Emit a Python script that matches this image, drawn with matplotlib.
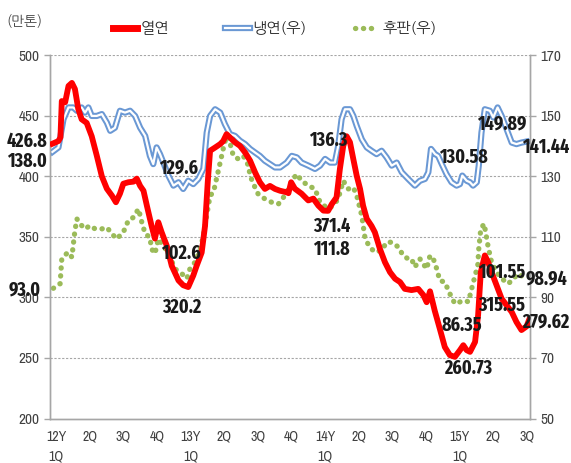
import matplotlib
matplotlib.use("Agg")
import matplotlib.pyplot as plt
from matplotlib.lines import Line2D

plt.rcParams['font.family'] = ['Archivo Narrow', 'NanumGothic', 'DejaVu Sans']
kr = ['NanumGothic', 'Noto Sans CJK KR', 'DejaVu Sans']
bold_narrow = ['Fira Sans Extra Condensed', 'Fira Sans Condensed', 'DejaVu Sans']

# x positions are in quarters from 12Y 1Q (0) to 15Y 3Q (14)
hot_x = [-0.11, 0.07, 0.13, 0.17, 0.27, 0.37, 0.47, 0.56, 0.66, 0.76, 0.91, 1.06, 1.21, 1.36, 1.51,
         1.66, 1.78, 1.90, 2.00, 2.15, 2.30, 2.40, 2.50, 2.60, 2.70, 2.84, 2.94, 3.04, 3.14, 3.29,
         3.44, 3.64, 3.78, 3.93, 4.08, 4.18, 4.33, 4.43, 4.51, 4.58, 4.73, 4.88, 4.97, 5.07, 5.17,
         5.32, 5.47, 5.62, 5.77, 5.92, 6.06, 6.21, 6.36, 6.51, 6.66, 6.86, 6.91, 6.99, 7.10, 7.30,
         7.50, 7.65, 7.80, 7.95, 8.09, 8.20, 8.34, 8.44, 8.54, 8.64, 8.74, 8.84, 8.94, 9.04, 9.13,
         9.24, 9.38, 9.48, 9.63, 9.78, 9.93, 10.08, 10.23, 10.37, 10.57, 10.77, 10.92, 11.02, 11.12,
         11.26, 11.41, 11.56, 11.71, 11.86, 12.01, 12.11, 12.21, 12.31, 12.46, 12.55, 12.63, 12.75,
         12.85, 12.95, 13.10, 13.25, 13.40, 13.55, 13.69, 13.84, 13.99, 14.06]
hot = [426.8, 429, 432, 462, 461, 474.5, 477, 472, 455.5, 447, 444, 433, 417, 400, 389.7,
       384, 378.5, 385.6, 393.8, 395, 395.5, 398, 392, 388, 375.7, 359, 348.5, 362, 353.7, 342.8,
       326, 314, 310, 308.5, 318, 326, 337, 359, 395, 421, 423.7, 426.5, 429, 434.7, 432,
       428, 425, 419.6, 412.8, 403, 395, 389.5, 392, 389.5, 388, 386.7, 386, 395, 389.7, 385.6,
       380, 381.5, 375.7, 371.6, 371.4, 377, 382.5, 406, 425, 433, 428, 414, 400.4, 389.5, 375.7,
       364.8, 359, 353.7, 340, 329, 320.8, 315.4, 312.6, 307, 306, 307, 302, 296, 305,
       289, 274.2, 259, 252.3, 250.9, 256.4, 260.5, 256.4, 255, 263.2, 285.2, 320.8, 334.6,
       329, 320.8, 309.9, 298.9, 293.4, 287.9, 279.7, 273, 276, 281]

cold_x = [-0.11, 0.07, 0.22, 0.37, 0.51, 0.62, 0.76, 0.86, 0.96, 1.06, 1.21, 1.36, 1.51, 1.61, 1.75,
          1.90, 2.05, 2.20, 2.35, 2.50, 2.65, 2.79, 2.89, 2.99, 3.09, 3.19, 3.34, 3.49, 3.64, 3.78,
          3.93, 4.08, 4.23, 4.38, 4.48, 4.58, 4.73, 4.88, 5.02, 5.17, 5.32, 5.47, 5.62, 5.77, 5.92,
          6.06, 6.21, 6.36, 6.51, 6.66, 6.86, 7.01, 7.16, 7.30, 7.50, 7.70, 7.85, 8.00, 8.15, 8.29,
          8.39, 8.49, 8.59, 8.74, 8.84, 8.94, 9.09, 9.24, 9.38, 9.53, 9.68, 9.83, 9.98, 10.13, 10.28,
          10.47, 10.67, 10.82, 10.97, 11.07, 11.15, 11.27, 11.36, 11.47, 11.61, 11.76, 11.91, 12.01,
          12.08, 12.21, 12.31, 12.40, 12.51, 12.57, 12.65, 12.75, 12.90, 13.00, 13.13, 13.25, 13.40,
          13.55, 13.69, 13.84, 13.99]
cold = [138.0, 139.5, 148.8, 152.7, 152.7, 151.6, 152.7, 151, 152.7, 149.9, 149.9, 150.5, 147.7, 145, 146,
        151.6, 151, 151.6, 149.9, 146, 143.3, 136.7, 134, 139.5, 137.3, 134.5, 130.2, 126.9, 128, 125.8,
        128.5, 127.4, 129.1, 132.4, 144.4, 149.9, 152.1, 151, 147.2, 143.9, 143.3, 141.7, 140.6, 139, 137.8,
        136.7, 135.1, 134, 132.9, 132.9, 134.5, 136.7, 136.2, 134.5, 133.5, 132.4, 133.5, 135.7, 134.5, 134.5,
        140, 148.8, 152.1, 152.1, 149.9, 146.6, 142.2, 139.5, 138.4, 137.3, 138.4, 136.2, 133.5, 134.5, 131.3,
        129.1, 126.9, 128.5, 129.1, 131.3, 139, 137.3, 136.7, 134, 130.7, 128, 126.9, 127.4,
        130.2, 128.5, 128, 126.9, 128, 133.5, 144.4, 152.1, 151.6, 149.4, 152.7, 149.9, 145.5,
        141.1, 140.6, 141.1, 141.44]

plate_x = [-0.08, 0.12, 0.17, 0.35, 0.47, 0.56, 0.62, 0.71, 0.86, 1.01, 1.16, 1.36, 1.51, 1.66, 1.80,
           2.00, 2.15, 2.30, 2.45, 2.55, 2.65, 2.79, 2.84, 2.94, 3.04, 3.19, 3.34, 3.54, 3.74, 3.89,
           3.98, 4.13, 4.28, 4.38, 4.48, 4.58, 4.68, 4.78, 4.88, 4.97, 5.07, 5.17, 5.27, 5.42, 5.57,
           5.72, 5.77, 5.87, 6.01, 6.21, 6.41, 6.61, 6.76, 6.91, 7.01, 7.16, 7.30, 7.50, 7.70, 7.85,
           8.09, 8.24, 8.39, 8.54, 8.69, 8.84, 8.94, 9.09, 9.19, 9.33, 9.48, 9.68, 9.83, 9.98, 10.18,
           10.32, 10.47, 10.57, 10.67, 10.82, 11.02, 11.12, 11.22, 11.32, 11.41, 11.56, 11.71, 11.86,
           12.01, 12.16, 12.26, 12.36, 12.46, 12.54, 12.57, 12.63, 12.73, 12.85, 12.95, 13.10, 13.25,
           13.45, 13.60, 13.75, 13.89]
plate = [93.0, 94.5, 102.7, 104.9, 103.3, 112, 115.9, 114.3, 112.6, 113.7, 112.6, 112.6, 113.1, 111, 109.3,
         111.5, 115.4, 116.4, 119.2, 114.8, 111, 109.8, 106, 104.4, 109.3, 107.1, 104.5, 99.4, 97.8, 96.2,
         99.4, 101.6, 105.5, 110.4, 117, 123.6, 124.7, 129.6, 134.5, 139, 143.3, 141.1, 136.7, 135.7, 136.7,
         133.5, 130.2, 127.4, 124.1, 122.5, 121.4, 120.8, 123, 125.8, 128.5, 130.7, 128.5, 126.9, 125.8, 121.4,
         119.2, 120.3, 122.5, 128.5, 125.8, 126.3, 123.6, 117, 109.3, 106.6, 104.9, 105.5, 108.2, 108.2, 106.6,
         103.8, 102.7, 102.7, 100, 102.7, 99.4, 103.8, 102.7, 99.4, 95.6, 95, 91.2, 87.9,
         88.5, 89, 88.5, 92.9, 97.2, 100.5, 106, 112.6, 114.3, 106.6, 101.6, 98.3, 96.2,
         94.5, 96.2, 97.8, 96.7]

tick_labels = ['12Y\n1Q', '2Q', '3Q', '4Q', '13Y\n1Q', '2Q', '3Q', '4Q',
               '14Y\n1Q', '2Q', '3Q', '4Q', '15Y\n1Q', '2Q', '3Q']

# value labels: (text, x in quarters, y on left axis)
notes = [('426.8', -0.86, 428.4), ('138.0', -0.86, 412.4), ('93.0', -0.92, 306.6),
         ('129.6', 3.63, 407.0), ('102.6', 3.72, 336.2), ('320.2', 3.75, 291.8),
         ('136.3', 8.09, 429.2), ('371.4', 8.20, 358.4), ('111.8', 8.20, 340.0),
         ('149.89', 13.26, 443.2), ('130.58', 12.10, 415.2), ('141.44', 14.56, 423.5),
         ('101.55', 13.26, 320.6), ('98.94', 14.58, 315.6), ('315.55', 13.26, 293.4),
         ('279.62', 14.56, 279.4), ('86.35', 12.07, 277.0), ('260.73', 12.25, 241.6)]

red = '#ff0000'
blue = '#6a98d4'
green = '#9bbb59'

fig = plt.figure(figsize=(5.71, 4.63), dpi=100)
ax = fig.add_axes([0.0876, 0.0961, 0.8404, 0.785])
ax2 = ax.twinx()

ax.set_zorder(ax2.get_zorder() + 1)
ax.patch.set_visible(False)

ax.plot(hot_x, hot, color=red, lw=4.2, solid_joinstyle='round', zorder=5)
ax2.plot(cold_x, cold, color=blue, lw=4.5, zorder=3)
ax2.plot(cold_x, cold, color='white', lw=1.6, zorder=4)
ax2.plot(plate_x, plate, color=green, lw=3.8, linestyle=(0, (0.05, 1.45)),
         dash_capstyle='round', zorder=2)

ax.set_xlim(-0.18, 14.09)
ax.set_ylim(200, 500)
ax2.set_ylim(50, 170)
ax.set_yticks(range(200, 501, 50))
ax2.set_yticks(range(50, 171, 20))
ax.set_xticks(range(15))
ax.set_xticklabels(tick_labels)

for v in range(250, 501, 50):
    ax2.axhline(50 + (v - 200) * 0.4, color='#a6a6a6', lw=0.8, ls=(0, (2, 1.5)), zorder=0)

for a in (ax, ax2):
    for s in a.spines.values():
        s.set_color('#a6a6a6')
        s.set_linewidth(1)
    a.spines['top'].set_visible(False)
    a.tick_params(axis='y', colors='#a6a6a6', labelcolor='#404040', labelsize=11, length=4, width=1)
ax.tick_params(axis='x', length=0, labelsize=10, labelcolor='#404040', pad=8)
for t in ax.get_xticklabels():
    t.set_linespacing(1.5)
    t.set_verticalalignment('top')

for txt, x, y in notes:
    ax.text(x, y, txt, fontsize=14, fontweight='bold', family=bold_narrow,
            ha='center', va='center', color='#1a1a1a', zorder=10)

# legend along the top
fig.text(0.012, 0.955, '(만톤)', fontsize=10, family=kr, color='#404040', va='center', ha='left')
leg_y = 0.94
fig.add_artist(Line2D([0.198, 0.24], [leg_y, leg_y], color=red, lw=5, transform=fig.transFigure))
fig.text(0.247, leg_y, '열연', fontsize=11, family=kr, va='center', ha='left', color='#262626')
fig.add_artist(Line2D([0.394, 0.438], [leg_y, leg_y], color=blue, lw=4.5, transform=fig.transFigure))
fig.add_artist(Line2D([0.394, 0.438], [leg_y, leg_y], color='white', lw=1.6, transform=fig.transFigure))
fig.text(0.442, leg_y, '냉연(우)', fontsize=11, family=kr, va='center', ha='left', color='#262626')
fig.add_artist(Line2D([0.622, 0.662], [leg_y, leg_y], color=green, lw=3.8,
                      linestyle=(0, (0.05, 1.45)), dash_capstyle='round', transform=fig.transFigure))
fig.text(0.67, leg_y, '후판(우)', fontsize=11, family=kr, va='center', ha='left', color='#262626')

fig.savefig('out.png', dpi=100)
